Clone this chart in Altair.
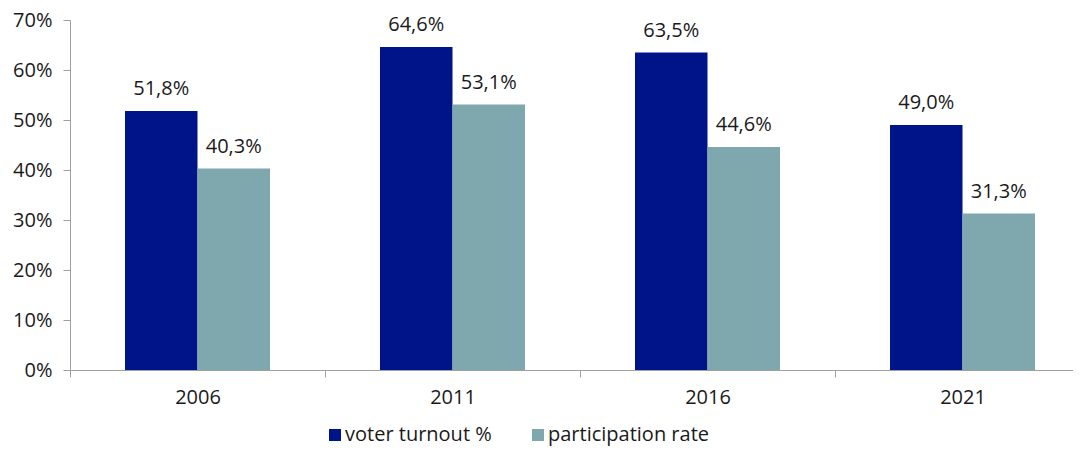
import altair as alt
import pandas as pd

years = ["2006", "2011", "2016", "2021"]
series = ["voter turnout %", "participation rate"]
voter_turnout = [51.8, 64.6, 63.5, 49.0]
participation = [40.3, 53.1, 44.6, 31.3]
colors = ["#001489", "#7FA8AE"]

rows = []
for i, y in enumerate(years):
    rows.append({"year": y, "series": series[0], "value": voter_turnout[i]})
    rows.append({"year": y, "series": series[1], "value": participation[i]})
df = pd.DataFrame(rows)

FONT = "Open Sans"
FS = 20
TXT = "#1a1a1a"

x = alt.X("year:N", title=None, sort=years,
          scale=alt.Scale(paddingInner=0, paddingOuter=0),
          axis=alt.Axis(labelAngle=0, tickBand="extent", domainColor="#A0A0A0",
                        tickColor="#A0A0A0", tickSize=7, labelPadding=10,
                        labelFontSize=FS, labelFont=FONT, labelColor=TXT))
y = alt.Y("value:Q", title=None,
          scale=alt.Scale(domain=[0, 70], nice=False),
          axis=alt.Axis(values=list(range(0, 71, 10)), labelExpr="datum.value + '%'",
                        grid=False, domainColor="#A0A0A0", tickColor="#A0A0A0",
                        tickSize=7, labelPadding=11, labelFontSize=FS, labelFont=FONT,
                        labelColor=TXT))
xoff = alt.XOffset("series:N", sort=series,
                   scale=alt.Scale(paddingInner=0, paddingOuter=0.7586))

base = alt.Chart(df).encode(x=x, xOffset=xoff)

bars = base.mark_bar().encode(
    y=y,
    color=alt.Color("series:N", sort=series,
                    scale=alt.Scale(domain=series, range=colors),
                    legend=alt.Legend(title=None, orient="none", direction="horizontal",
                                      legendX=255, legendY=405, symbolType="square",
                                      symbolSize=144, symbolStrokeWidth=0,
                                      labelFontSize=FS, labelFont=FONT, labelLimit=400,
                                      labelColor=TXT, columnPadding=36,
                                      labelOffset=0)),
)

labels = base.mark_text(baseline="alphabetic", dy=-16, fontSize=FS, font=FONT,
                        color=TXT).encode(
    y=alt.Y("value:Q"),
    text=alt.Text("label:N"),
).transform_calculate(
    label="replace(format(datum.value, '.1f'), '.', ',') + '%'"
)

chart = (bars + labels).properties(
    width=1020, height=350,
    autosize=alt.AutoSizeParams(type="none"),
    padding={"left": 62, "top": 12, "right": -17, "bottom": 77},
).configure_view(stroke=None)

chart.save("out.html", embed_options={"renderer": "svg", "actions": False})
